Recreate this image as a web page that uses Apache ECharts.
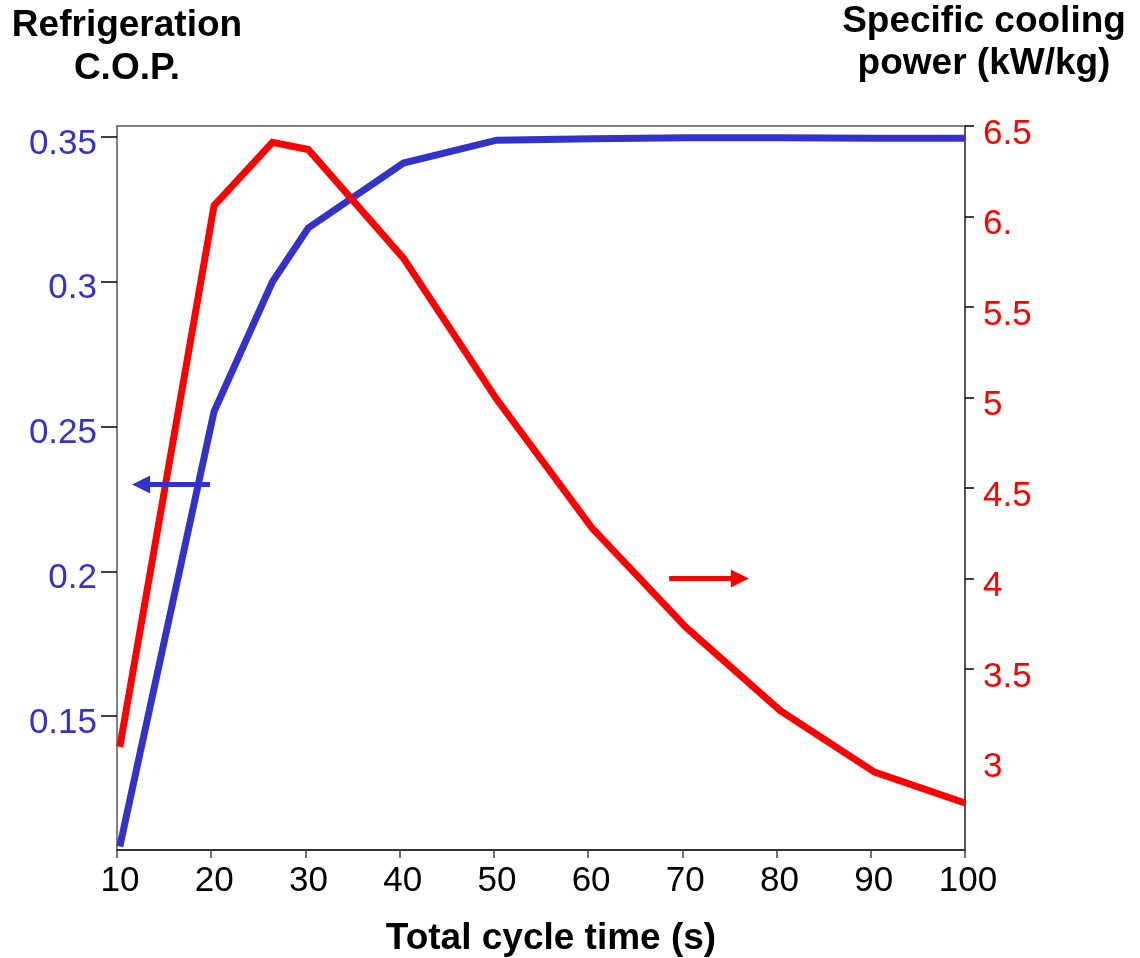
<!DOCTYPE html>
<html>
<head>
<meta charset="utf-8">
<script src="https://cdn.jsdelivr.net/npm/echarts@6/dist/echarts.min.js"></script>
<style>
  html, body { margin: 0; padding: 0; background: #fff; }
  #main { width: 1140px; height: 958px; }
</style>
</head>
<body>
<div id="main"></div>
<script>
// values
const cycleTime = [10.3, 20.3, 26.5, 30.3, 40.4, 50.3, 60.4, 70.4, 80.4, 90.4, 100];
const cop = [0.105, 0.2552, 0.300, 0.3186, 0.341, 0.3489, 0.3494, 0.3497, 0.3497, 0.3496, 0.3496];
const coolingPower = [3.07, 6.06, 6.41, 6.37, 5.77, 4.99, 4.28, 3.73, 3.27, 2.93, 2.76];

const copTicks = [0.15, 0.2, 0.25, 0.3, 0.35];
const powerLabels = [3, 3.5, 4, 4.5, 5, 5.5, 6, 6.5];
const powerTicks = [3.5, 4, 4.5, 5, 5.5, 6, 6.5];

// annotation arrows: [shaft start, arrow head]
const copArrow = [[19.87, 0.23], [12.56, 0.23]];
const powerArrow = [[68.6, 4], [76.1, 4]];

const BLUE = '#3333CC';
const RED = '#FF0000';
const FONT = '"Liberation Sans", Arial, sans-serif';

var myChart = echarts.init(document.getElementById('main'));

function arrowData(pts, rotate) {
    return [
        { value: pts[0], symbol: 'none' },
        { value: pts[1], symbol: 'triangle', symbolSize: [18, 18], symbolRotate: rotate }
    ];
}

let option = {
    backgroundColor: '#fff',
    animation: false,
    grid: {
        left: 117, right: 175, top: 126, bottom: 108,
        show: true, borderColor: '#808080', borderWidth: 2
    },
    xAxis: {
        type: 'value',
        min: 10, max: 100, interval: 10,
        axisLine: { lineStyle: { color: '#333', width: 2 } },
        axisTick: { length: 8, lineStyle: { color: '#444', width: 1.5 } },
        axisLabel: { margin: 14, color: '#000', fontSize: 35, fontFamily: FONT, padding: [0, 0, 0, 6] },
        splitLine: { show: false }
    },
    yAxis: [
        {
            type: 'value',
            position: 'left',
            min: 0.1038, max: 0.3538,
            axisLine: { show: true, lineStyle: { color: '#808080', width: 2 } },
            axisTick: { show: true, length: 16, customValues: copTicks, lineStyle: { color: '#000', width: 1.5 } },
            axisLabel: {
                customValues: copTicks, margin: 20, color: BLUE, fontSize: 35,
                fontFamily: FONT, verticalAlign: 'top', lineHeight: 14
            },
            splitLine: { show: false }
        },
        {
            type: 'value',
            position: 'right',
            min: 2.5, max: 6.5,
            axisLine: { show: true, lineStyle: { color: '#555', width: 2 } },
            axisTick: { show: true, length: 9, customValues: powerTicks, lineStyle: { color: '#000', width: 1.5 } },
            axisLabel: {
                customValues: powerLabels, margin: 18, color: RED, fontSize: 35,
                fontFamily: FONT, verticalAlign: 'top', lineHeight: 16,
                formatter: function (v) { return v === 6 ? '6.' : String(v); }
            },
            splitLine: { show: false }
        }
    ],
    graphic: [
        {
            type: 'text', x: 127, y: 47,
            style: {
                text: 'Refrigeration\nC.O.P.', align: 'center', verticalAlign: 'middle',
                font: 'bold 37px ' + FONT, lineHeight: 43, fill: '#000'
            }
        },
        {
            type: 'text', x: 984, y: 43,
            style: {
                text: 'Specific cooling\npower (kW/kg)', align: 'center', verticalAlign: 'middle',
                font: 'bold 37px ' + FONT, lineHeight: 42, fill: '#000'
            }
        },
        {
            type: 'text', x: 551, y: 939,
            style: {
                text: 'Total cycle time (s)', align: 'center', verticalAlign: 'middle',
                font: 'bold 37px ' + FONT, fill: '#000'
            }
        }
    ],
    series: [
        {
            name: 'COP', type: 'line', yAxisIndex: 0,
            data: cycleTime.map((t, i) => [t, cop[i]]),
            showSymbol: false, symbol: 'none',
            lineStyle: { color: BLUE, width: 7, cap: 'butt', join: 'miter' }
        },
        {
            name: 'Specific cooling power', type: 'line', yAxisIndex: 1,
            data: cycleTime.map((t, i) => [t, coolingPower[i]]),
            showSymbol: false, symbol: 'none',
            lineStyle: { color: RED, width: 7, cap: 'butt', join: 'miter' }
        },
        {
            name: 'copArrow', type: 'line', yAxisIndex: 0,
            data: arrowData(copArrow, 90),
            itemStyle: { color: BLUE },
            lineStyle: { color: BLUE, width: 5 }
        },
        {
            name: 'powerArrow', type: 'line', yAxisIndex: 1,
            data: arrowData(powerArrow, -90),
            itemStyle: { color: RED },
            lineStyle: { color: RED, width: 5 }
        }
    ]
};

myChart.setOption(option);
</script>
</body>
</html>
